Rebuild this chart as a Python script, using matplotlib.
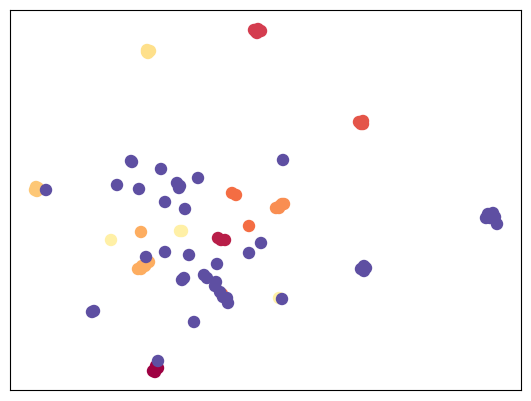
import numpy as np
import matplotlib
matplotlib.use("Agg")
import matplotlib.pyplot as plt

# embedding coordinates per cluster label
x0 = [5.72, 5.92, 5.84, 5.80]
y0 = [0.76, 0.88, 0.96, 0.72]
x1 = [8.32, 8.60, 8.44]
y1 = [6.08, 6.00, 6.00]
x2 = [9.76, 9.92, 10.04, 9.88, 9.84]
y2 = [14.40, 14.44, 14.36, 14.28, 14.32]
x3 = [13.96, 14.12, 14.12, 14.04]
y3 = [10.72, 10.76, 10.64, 10.64]
x4 = [8.88, 9.04, 9.56, 8.48]
y4 = [7.88, 7.80, 6.56, 3.84]
x5 = [10.64, 10.80, 10.96, 10.76, 10.88]
y5 = [7.28, 7.36, 7.44, 7.28, 7.44]
x6 = [5.24, 5.12, 5.28, 5.44, 5.56, 5.24, 5.40]
y6 = [6.32, 4.84, 4.96, 5.04, 5.12, 4.84, 4.96]
x7 = [1.00, 1.12, 1.08, 1.04]
y7 = [8.00, 8.08, 7.96, 8.12]
x8 = [5.48, 5.60, 5.52, 5.48]
y8 = [13.60, 13.56, 13.48, 13.52]
x9 = [4.04, 6.80, 6.88, 10.76]
y9 = [6.00, 6.36, 6.36, 3.68]
# everything else (label 20)
x20 = [4.84, 4.88, 6.04, 4.28, 5.16, 6.68, 6.80, 6.76, 7.52, 6.20, 7.00,
       5.44, 6.20, 7.16, 8.28, 10.04, 9.56, 6.88, 6.96, 7.76, 7.88, 8.24,
       8.20, 8.40, 8.52, 8.68, 8.72, 7.36, 10.88, 3.28, 3.36, 5.92,
       14.04, 14.24, 14.16, 14.16,
       19.12, 19.32, 19.20, 19.04, 19.40, 19.48, 10.92, 1.44]
y20 = [9.16, 9.12, 8.84, 8.20, 8.04, 8.28, 8.16, 8.08, 8.48, 7.52, 7.24,
       5.32, 5.52, 5.40, 5.04, 5.88, 5.48, 4.40, 4.48, 4.60, 4.48, 4.32,
       4.16, 3.92, 3.72, 3.68, 3.48, 2.72, 3.64, 3.12, 3.16, 1.16,
       4.84, 4.88, 4.76, 4.96,
       7.04, 7.08, 6.88, 6.88, 6.92, 6.64, 9.20, 8.00]

xs = [x0, x1, x2, x3, x4, x5, x6, x7, x8, x9, x20]
ys = [y0, y1, y2, y3, y4, y5, y6, y7, y8, y9, y20]
labels = [0, 1, 2, 3, 4, 5, 6, 7, 8, 9, 20]

x = np.concatenate([np.array(v) for v in xs])
y = np.concatenate([np.array(v) for v in ys])
c = np.concatenate([np.full(len(v), lab) for v, lab in zip(xs, labels)])

fig = plt.figure(figsize=(5.31, 4.01), dpi=100)
ax = fig.add_axes([10 / 531, 11 / 401, 511 / 531, 380 / 401])
ax.scatter(x, y, c=c, cmap="Spectral", vmin=0, vmax=20, s=80, linewidths=0)
ax.set_xlim(0, 20.44)
ax.set_ylim(0, 15.2)
ax.set_xticks([])
ax.set_yticks([])

fig.savefig("out.png", dpi=100)
